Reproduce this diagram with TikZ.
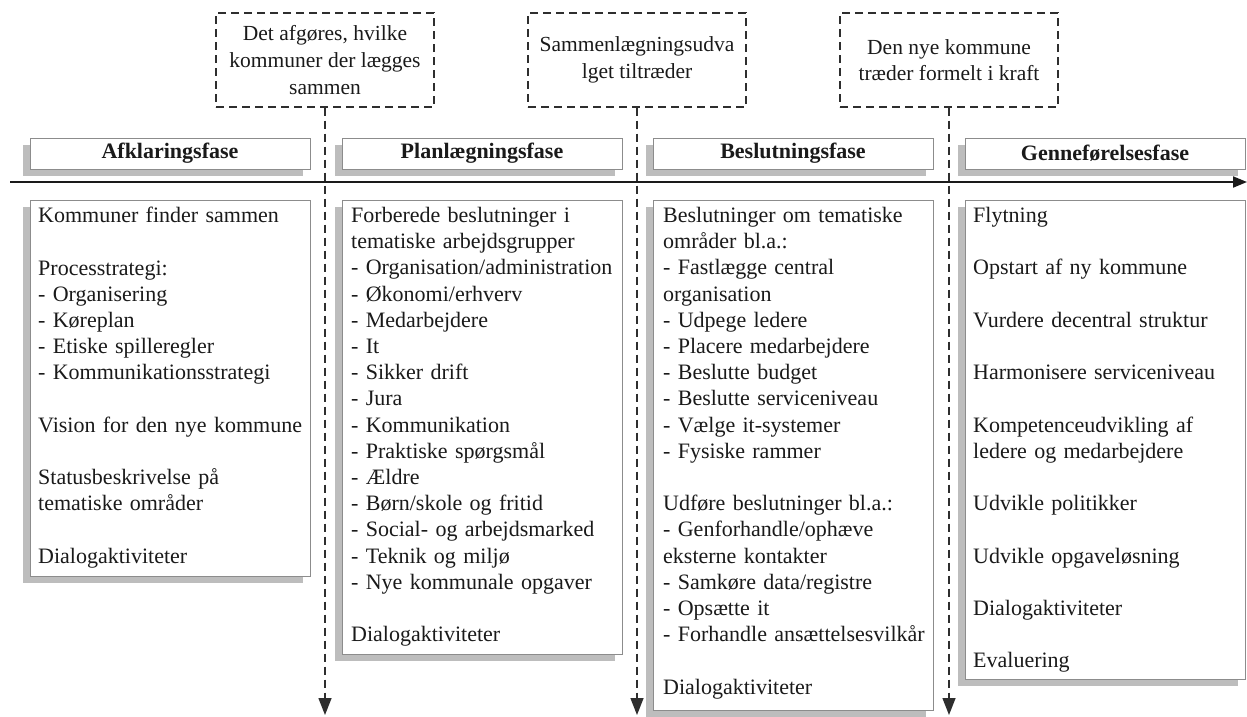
\documentclass[tikz,border=0pt]{standalone}
\usepackage{fontspec}
\setmainfont{Liberation Serif}
\usetikzlibrary{arrows.meta,shadows}
\definecolor{txt}{HTML}{1A1A1A}
\definecolor{edge}{HTML}{8C8C8C}
\definecolor{shade}{HTML}{BDBDBD}
\definecolor{dash}{HTML}{2E2E2E}
\tikzset{
  shbox/.style={draw=edge, line width=0.8pt, fill=white, inner sep=0pt,
    minimum width=280pt,
    drop shadow={shadow xshift=-7pt, shadow yshift=-7pt, fill=shade, opacity=1}},
  hdr/.style={shbox, minimum height=31pt, text=txt,
    font=\fontsize{22}{26}\selectfont\bfseries},
  cbox/.style={shbox, anchor=north west},
  body/.style={anchor=north west, inner sep=0pt, text width=300pt, align=left,
    text=txt, font=\fontsize{22}{26.2}\selectfont},
  dbox/.style={draw=dash, dash pattern=on 8pt off 5pt, line width=1.4pt,
    minimum width=218pt, minimum height=94pt, align=center, inner sep=0pt,
    text=txt, font=\fontsize{21.5}{26.6}\selectfont},
  darrow/.style={draw=dash, dash pattern=on 8pt off 5pt, line width=1.4pt,
    -{Triangle[length=17pt,width=13pt]}},
  tline/.style={draw=txt, line width=2pt, -{Triangle[length=14pt,width=11pt]}}
}
\begin{document}
\begin{tikzpicture}[x=1pt,y=-1pt]
\useasboundingbox (0,0) rectangle (1247,716);

% headers
\node[hdr] (h1) at (170,153.5) {Afklaringsfase};
\node[hdr] (h2) at (482,153.5) {Planlægningsfase};
\node[hdr] (h3) at (793,153.5) {Beslutningsfase};
\node[hdr] (h4) at (1105,153.5) {Genneførelsesfase};

% timeline
\coordinate (t0) at (10,182);
\coordinate (t1) at (1247,182);
\draw[tline] (t0) -- (t1);

% content boxes
\node[cbox, minimum height=376pt] (b1) at (30,200) {};
\node[cbox, minimum height=454pt] (b2) at (342,200) {};
\node[cbox, minimum height=510pt] (b3) at (653,200) {};
\node[cbox, minimum height=479pt] (b4) at (965,200) {};

\node[body] (x1) at (38,207) {Kommuner finder sammen\\[26.2pt]
Processtrategi:\\
- Organisering\\
- Køreplan\\
- Etiske spilleregler\\
- Kommunikationsstrategi\\[26.2pt]
Vision for den nye kommune\\[26.2pt]
Statusbeskrivelse på\\
tematiske områder\\[26.2pt]
Dialogaktiviteter};

\node[body] (x2) at (351,207) {Forberede beslutninger i\\
tematiske arbejdsgrupper\\
- Organisation/administration\\
- Økonomi/erhverv\\
- Medarbejdere\\
- It\\
- Sikker drift\\
- Jura\\
- Kommunikation\\
- Praktiske spørgsmål\\
- Ældre\\
- Børn/skole og fritid\\
- Social- og arbejdsmarked\\
- Teknik og miljø\\
- Nye kommunale opgaver\\[26.2pt]
Dialogaktiviteter};

\node[body] (x3) at (663,207) {Beslutninger om tematiske\\
områder bl.a.:\\
- Fastlægge central\\
organisation\\
- Udpege ledere\\
- Placere medarbejdere\\
- Beslutte budget\\
- Beslutte serviceniveau\\
- Vælge it-systemer\\
- Fysiske rammer\\[26.2pt]
Udføre beslutninger bl.a.:\\
- Genforhandle/ophæve\\
eksterne kontakter\\
- Samkøre data/registre\\
- Opsætte it\\
- Forhandle ansættelsesvilkår\\[26.2pt]
Dialogaktiviteter};

\node[body] (x4) at (973,207) {Flytning\\[26.2pt]
Opstart af ny kommune\\[26.2pt]
Vurdere decentral struktur\\[26.2pt]
Harmonisere serviceniveau\\[26.2pt]
Kompetenceudvikling af\\
ledere og medarbejdere\\[26.2pt]
Udvikle politikker\\[26.2pt]
Udvikle opgaveløsning\\[26.2pt]
Dialogaktiviteter\\[26.2pt]
Evaluering};

% milestone boxes
\node[dbox] (d1) at (325,60) {Det afgøres, hvilke\\kommuner der lægges\\sammen};
\node[dbox] (d2) at (637,60) {Sammenlægningsudva\\lget tiltræder};
\node[dbox] (d3) at (949,60) {Den nye kommune\\træder formelt i kraft};

\coordinate (e1) at (325,715);
\coordinate (e2) at (637,715);
\coordinate (e3) at (949,715);
\draw[darrow] (d1.south) -- (e1);
\draw[darrow] (d2.south) -- (e2);
\draw[darrow] (d3.south) -- (e3);
\end{tikzpicture}
\end{document}
